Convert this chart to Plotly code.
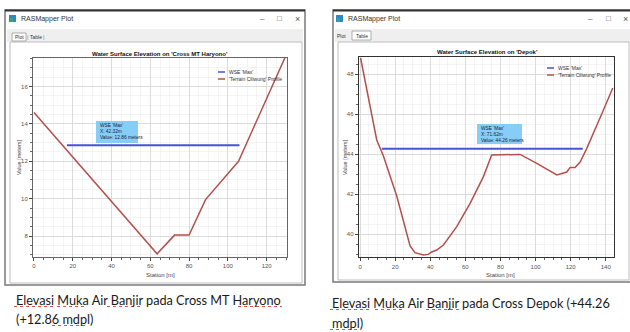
import plotly.graph_objects as go

# ---------------- data ----------------
# Left: Cross MT Haryono
st_left = [0, 63.5, 72.5, 80, 88.5, 105.5, 129.5]
el_left = [14.6, 7.05, 8.05, 8.05, 9.95, 12.0, 17.55]
wse_left_x = [17, 106]
wse_left_y = [12.86, 12.86]
xticks_left = [0, 20, 40, 60, 80, 100, 120]
yticks_left = [8, 10, 12, 14, 16]

# Right: Depok
st_right = [0.3, 9.5, 13.3, 20.9, 28.5, 31.3, 36.1, 38.9, 40.8, 43.7, 47.5, 55.1,
            62.7, 70.3, 75, 91.2, 100.7, 112.1, 117.8, 119.7, 122.5, 125.4,
            129.2, 133.9, 137.7, 144]
el_right = [48.8, 44.7, 43.9, 41.9, 39.4, 39.07, 38.95, 38.98, 39.1, 39.2, 39.45, 40.37,
            41.53, 42.87, 43.95, 43.98, 43.53, 42.95, 43.1, 43.33, 43.33, 43.6,
            44.28, 45.2, 46.0, 47.3]
wse_right_x = [12.4, 126.9]
wse_right_y = [44.26, 44.26]
xticks_right = [0, 20, 40, 60, 80, 100, 120, 140]
yticks_right = [40, 42, 44, 46, 48]

W, H = 630, 332
def px(x):
    return x / W
def py(y):
    return 1 - y / H

BLUE = "#4b50dc"
RED = "#b4504c"
FONT = "Liberation Sans"

fig = go.Figure()
fig.add_trace(go.Scatter(x=st_left, y=el_left, mode="lines", line=dict(color=RED, width=1.5),
                         xaxis="x", yaxis="y", hoverinfo="skip"))
fig.add_trace(go.Scatter(x=wse_left_x, y=wse_left_y, mode="lines", line=dict(color=BLUE, width=2),
                         xaxis="x", yaxis="y", hoverinfo="skip"))
fig.add_trace(go.Scatter(x=st_right, y=el_right, mode="lines", line=dict(color=RED, width=1.5),
                         xaxis="x2", yaxis="y2", hoverinfo="skip"))
fig.add_trace(go.Scatter(x=wse_right_x, y=wse_right_y, mode="lines", line=dict(color=BLUE, width=2),
                         xaxis="x2", yaxis="y2", hoverinfo="skip"))

def axis_style(tickvals, dminor, linecolor, linewidth):
    return dict(
        tickvals=tickvals, showgrid=True, gridcolor="#d6d6d6", gridwidth=0.8,
        ticks="outside", ticklen=3, tickcolor="#444", tickwidth=1,
        tickfont=dict(size=6, color="#555", family=FONT),
        showline=True, linecolor=linecolor, linewidth=linewidth, mirror=True,
        zeroline=False, automargin=False, fixedrange=True,
        minor=dict(dtick=dminor, showgrid=True, gridcolor="#ededed", gridwidth=0.6,
                   ticks="outside", ticklen=2, tickcolor="#666"),
    )

fig.update_layout(
    width=W, height=H, margin=dict(l=0, r=0, t=0, b=0),
    paper_bgcolor="white", plot_bgcolor="white", showlegend=False,
    xaxis=dict(domain=[px(33), px(287)], anchor="y", range=[-0.5, 130.5],
               **axis_style(xticks_left, 5, "#666", 1)),
    yaxis=dict(domain=[py(257), py(58)], anchor="x", range=[6.88, 17.52],
               **axis_style(yticks_left, 0.5, "#666", 1)),
    xaxis2=dict(domain=[px(359), px(614)], anchor="y2", range=[-0.6, 144.7],
                **axis_style(xticks_right, 5, "#333", 1.3)),
    yaxis2=dict(domain=[py(257), py(57)], anchor="x2", range=[38.85, 48.85],
                **axis_style(yticks_right, 0.5, "#333", 1.3)),
)

shapes = []
ann = []

def rect(x0, y0, x1, y1, line="#888", lw=1, fill=None, layer="below"):
    d = dict(type="rect", xref="paper", yref="paper", x0=px(x0), x1=px(x1), y0=py(y1), y1=py(y0),
             line=dict(color=line, width=lw), layer=layer)
    if fill:
        d["fillcolor"] = fill
    if lw == 0:
        d["line"] = dict(width=0)
    shapes.append(d)

def hline(x0, x1, y, color, lw=1, layer="above", dash=None):
    d = dict(type="line", xref="paper", yref="paper", x0=px(x0), x1=px(x1), y0=py(y), y1=py(y),
             line=dict(color=color, width=lw), layer=layer)
    if dash:
        d["line"]["dash"] = dash
    shapes.append(d)

def text(x, y, s, size=6, color="#222", xanchor="left", bold=False, family=FONT, angle=0):
    if bold:
        s = "<b>" + s + "</b>"
    ann.append(dict(xref="paper", yref="paper", x=px(x), y=py(y), text=s, showarrow=False,
                    xanchor=xanchor, yanchor="middle", textangle=angle,
                    font=dict(size=size, color=color, family=family)))

# ---------- window chrome ----------
for (wx0, wx1, wy1, title_x, ctrl) in [(5, 305, 285, 9, (262, 279, 297)),
                                        (333, 632, 282, 336, (590, 608, 625))]:
    rect(wx0 + 2, 29, wx1 - 2, 42, lw=0, fill="#efefef")
    rect(wx0, 10, wx1, wy1, line="#7a7a7a", lw=1.5)
    hline(wx0, wx1, 10.5, "#333", lw=2)
    rect(wx0 + 5, 42, wx1 - 3, wy1 - 2, line="#bdbdbd", lw=1)
    rect(title_x, 15, title_x + 7, 22, lw=0, fill="#2f86c9")
    rect(title_x + 1, 18, title_x + 4, 22, lw=0, fill="#3fa36b")
    text(title_x + 10, 18.5, "RASMapper Plot", size=7, color="#333")
    text(ctrl[0], 18.5, "–", size=8, color="#555", xanchor="center")
    text(ctrl[1], 18.5, "□", size=8, color="#555", xanchor="center")
    text(ctrl[2], 18.5, "×", size=9, color="#555", xanchor="center")

# tabs
rect(12, 33, 26, 41, line="#999", lw=0.8, fill="white")
text(19, 37, "Plot", size=5, color="#333", xanchor="center")
text(36, 37, "Table", size=5, color="#333", xanchor="center")
text(27.5, 37, "|", size=6, color="#888", xanchor="center")
text(44, 37, "|", size=6, color="#888", xanchor="center")
rect(352, 31, 371, 40, line="#999", lw=0.8, fill="white")
text(341, 35.5, "Plot", size=5, color="#333", xanchor="center")
text(361.5, 35.5, "Table", size=5, color="#333", xanchor="center")

# ---------- plot titles / axis titles ----------
text(160, 53.5, "Water Surface Elevation on 'Cross MT Haryono'", size=6, color="#111",
     xanchor="center", bold=True)
text(487, 52, "Water Surface Elevation on 'Depok'", size=6, color="#111", xanchor="center", bold=True)
text(160, 275, "Station [m]", size=6, color="#444", xanchor="center")
text(500, 275, "Station [m]", size=6, color="#444", xanchor="center")
text(19, 157, "Value [meters]", size=5.5, color="#444", xanchor="center", angle=-90)
text(345, 157, "Value [meters]", size=5.5, color="#444", xanchor="center", angle=-90)

# ---------- legends ----------
for (lx, ly, lbl1) in [(218, 72, "WSE 'Max'"), (547, 68, "WSE 'Max'")]:
    hline(lx, lx + 7, ly, BLUE, lw=1.5)
    hline(lx, lx + 7, ly + 7, RED, lw=1.5)
    text(lx + 9, ly, lbl1, size=5, color="#333")
    text(lx + 9, ly + 7, "'Terrain Ciliwung' Profile", size=5, color="#333")

# ---------- tooltips ----------
rect(96, 121, 138, 143, lw=0, fill="#86cdf7", layer="above")
text(98, 125, "WSE 'Max'", size=4.8, color="#223")
text(98, 131, "X: 42.32m", size=4.8, color="#223")
text(98, 137, "Value: 12.86 meters", size=4.8, color="#223")
rect(477, 124, 522, 144, lw=0, fill="#86cdf7", layer="above")
text(479, 128, "WSE 'Max'", size=4.8, color="#223")
text(479, 134, "X: 71.62m", size=4.8, color="#223")
text(479, 140, "Value: 44.26 meters", size=4.8, color="#223")

# ---------- captions ----------
CAP = "Lato"
CS = 12.7
text(14, 300, "Elevasi Muka Air Banjir pada Cross MT Haryono", size=CS, color="#1a1a1a", family=CAP)
text(14, 319, "(+12.86 mdpl)", size=CS, color="#1a1a1a", family=CAP)
text(330, 303, "Elevasi Muka Air Banjir pada Cross Depok (+44.26", size=CS, color="#1a1a1a", family=CAP)
text(330, 323, "mdpl)", size=CS, color="#1a1a1a", family=CAP)

# spell-check underlines
UL = "#d9534f"
for (x0, x1, y) in [(14, 54, 306.5), (57, 86, 306.5), (107, 141, 306.5), (238, 282, 306.5),
                    (52, 87, 325.5), (330, 371, 309.5), (375, 404, 309.5), (426, 462, 309.5),
                    (330, 358, 329.5)]:
    hline(x0, x1, y, UL, lw=1, dash="dot")

fig.update_layout(shapes=shapes, annotations=ann)
fig.write_html("out.html", config={"displayModeBar": False, "staticPlot": True},
               post_script="document.body.style.margin='0';document.body.style.overflow='hidden';")
